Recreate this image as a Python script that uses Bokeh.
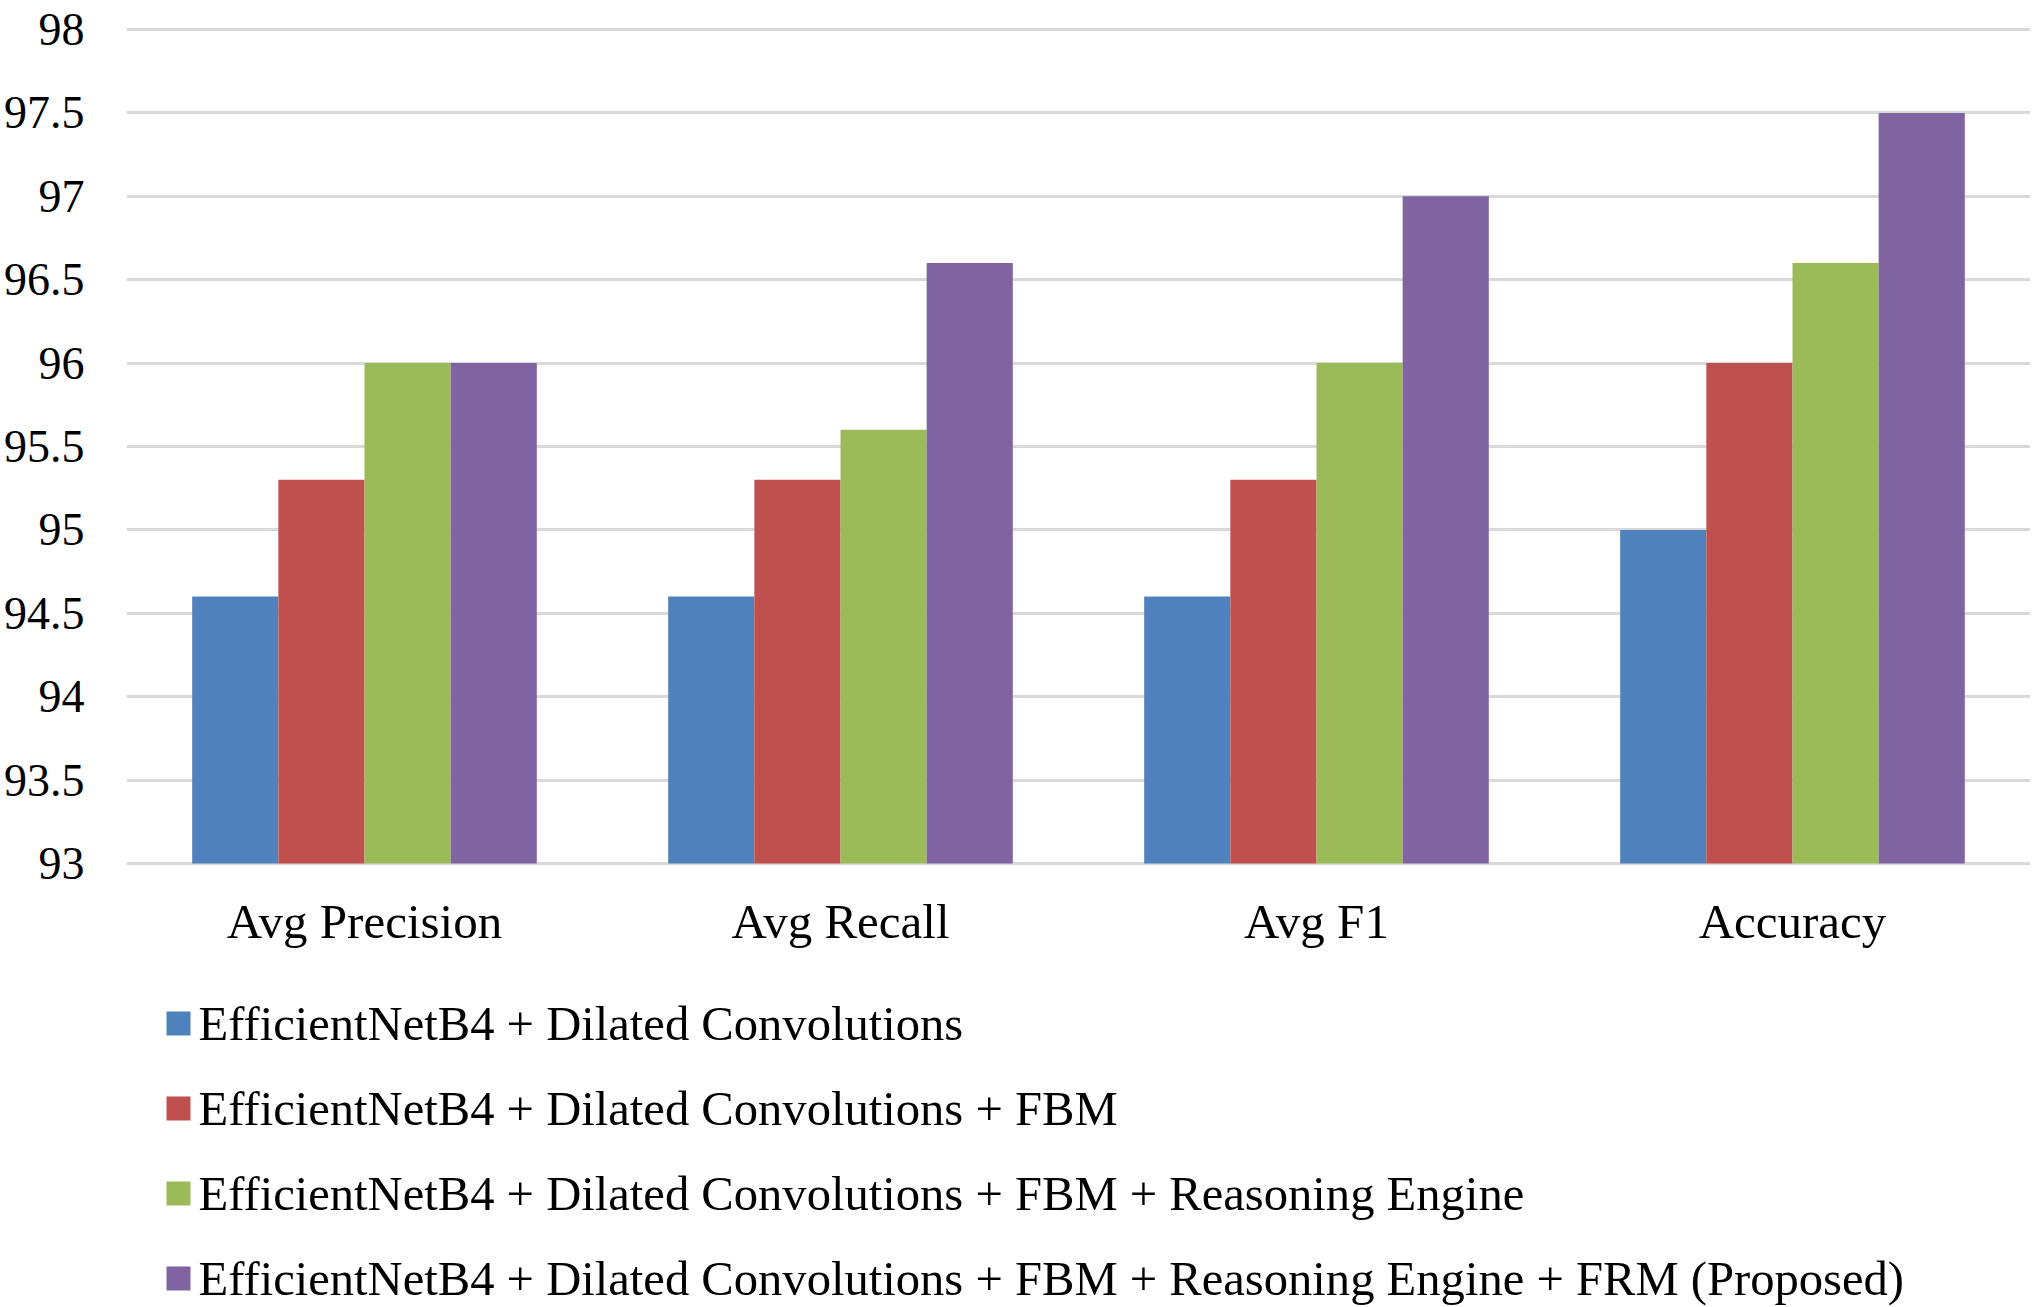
from bokeh.plotting import figure
from bokeh.models import Range1d, FixedTicker
from bokeh.core.properties import value
from bokeh.embed import file_html
from bokeh.resources import INLINE

categories = ["Avg Precision", "Avg Recall", "Avg F1", "Accuracy"]
series_names = [
    "EfficientNetB4 + Dilated Convolutions",
    "EfficientNetB4 + Dilated Convolutions + FBM",
    "EfficientNetB4 + Dilated Convolutions + FBM + Reasoning Engine",
    "EfficientNetB4 + Dilated Convolutions + FBM + Reasoning Engine + FRM (Proposed)",
]
s1 = [94.6, 94.6, 94.6, 95.0]
s2 = [95.3, 95.3, 95.3, 96.0]
s3 = [96.0, 95.6, 96.0, 96.6]
s4 = [96.0, 96.6, 97.0, 97.5]
colors = ["#4F81BD", "#C0504D", "#9BBB59", "#8064A2"]
y_ticks = [93, 93.5, 94, 94.5, 95, 95.5, 96, 96.5, 97, 97.5, 98]
y_tick_labels = ["93", "93.5", "94", "94.5", "95", "95.5", "96", "96.5", "97", "97.5", "98"]

FONT = "Liberation Serif"

# layout (pixels)
FW = 1904          # frame width
TOP = 27           # top border
PLOT_H = 836       # height of the 93..98 band
FH = 1280          # total frame height (band + area for labels and legend)
Y_MIN, Y_MAX = 93, 98.012
px_per_y = PLOT_H / (Y_MAX - Y_MIN)
y_low = Y_MAX - FH / px_per_y
px_per_x = FW / len(categories)

def y_below(px):
    """data y for a point px pixels below the 93 line"""
    return Y_MIN - px / px_per_y

p = figure(x_range=Range1d(0, len(categories)), y_range=Range1d(y_low, Y_MAX),
           frame_width=FW, frame_height=FH,
           output_backend="svg", toolbar_location=None,
           min_border_left=100, min_border_right=0, min_border_top=TOP, min_border_bottom=0)
p.outline_line_color = None
p.xgrid.grid_line_color = None
p.xaxis.visible = False
p.ygrid.grid_line_color = "#d9d9d9"
p.ygrid.grid_line_width = 3

centers = [i + 0.5 for i in range(len(categories))]
bw = 0.181
offsets = [-1.5 * bw, -0.5 * bw, 0.5 * bw, 1.5 * bw]
for vals, off, col in zip([s1, s2, s3, s4], offsets, colors):
    p.vbar(x=[c + off for c in centers], top=vals, bottom=Y_MIN, width=bw,
           fill_color=col, line_color=None)

p.yaxis.ticker = FixedTicker(ticks=y_ticks)
p.yaxis.major_label_overrides = {t: l for t, l in zip(y_ticks, y_tick_labels)}
p.yaxis.axis_line_color = None
p.yaxis.major_tick_line_color = None
p.yaxis.minor_tick_line_color = None
p.yaxis.major_tick_out = 0
p.yaxis.major_tick_in = 0
p.yaxis.major_label_standoff = 42
p.yaxis.major_label_text_font = FONT
p.yaxis.major_label_text_font_size = "46px"
p.yaxis.major_label_text_color = "#000000"

# category labels
p.text(x=centers, y=[y_below(58)] * len(categories), text=categories,
       text_font=value(FONT), text_font_size="49px", text_align="center",
       text_baseline="middle", text_color="#000000")

# legend
rows = range(len(series_names))
ly = [y_below(160 + 85 * i) for i in rows]
p.scatter(x=[52 / px_per_x] * len(series_names), y=ly, marker="square", size=24,
          fill_color=colors, line_color=None)
p.text(x=[72 / px_per_x] * len(series_names), y=ly, text=series_names,
       text_font=value(FONT), text_font_size="48.6px", text_align="left",
       text_baseline="middle", text_color="#000000")

open("out.html", "w").write(file_html(p, INLINE))
